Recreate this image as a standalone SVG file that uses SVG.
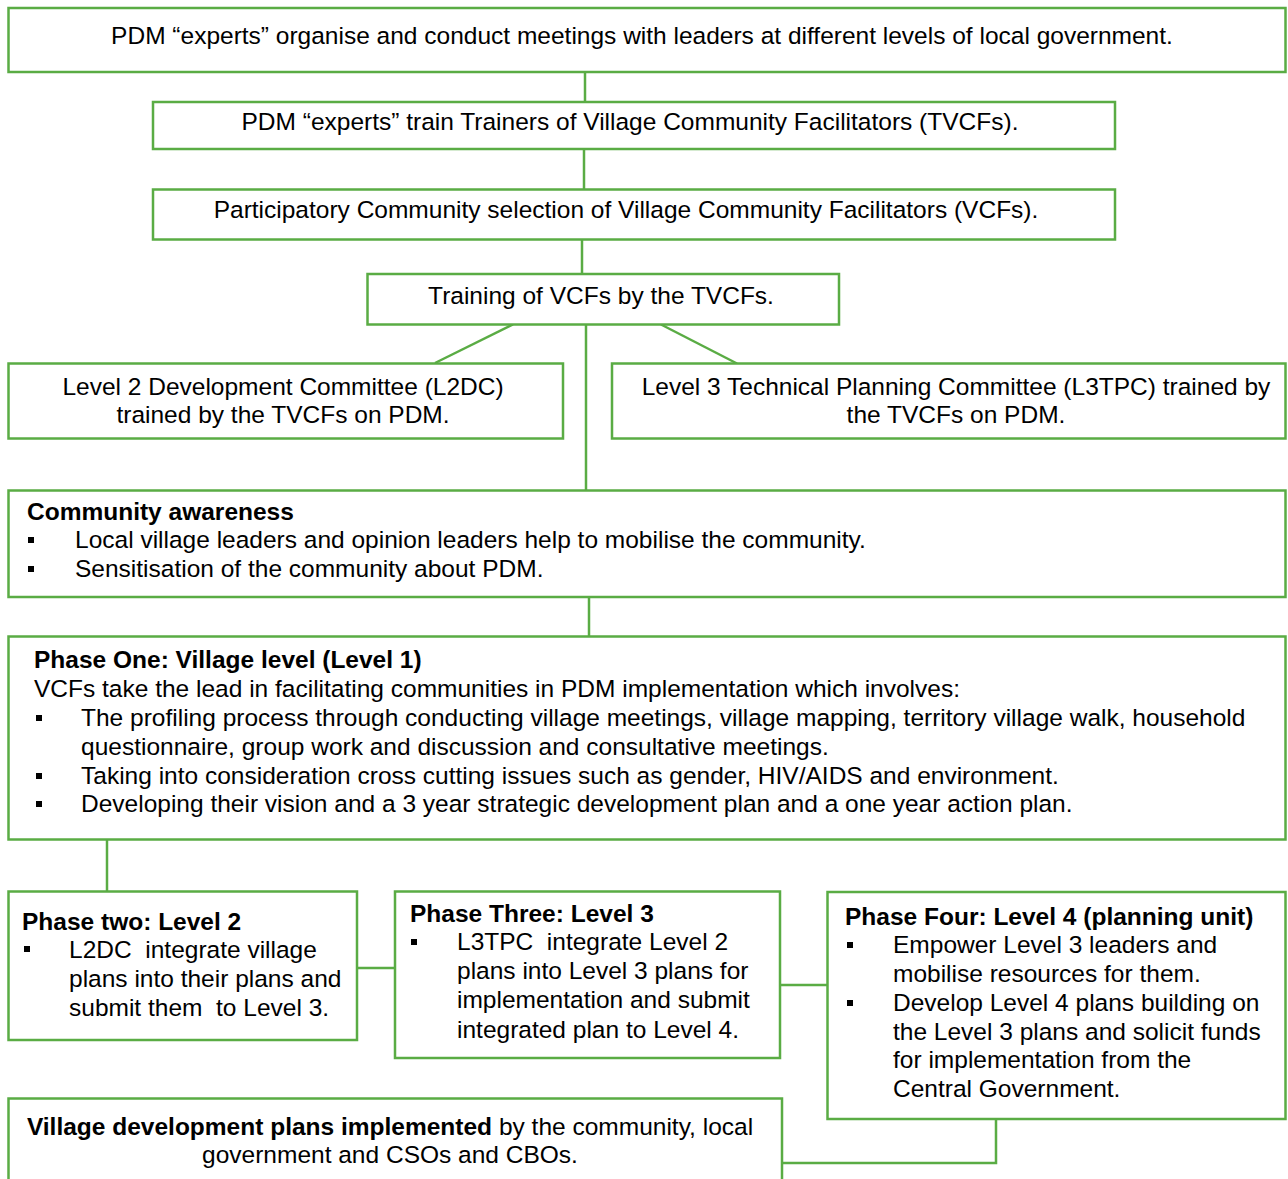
<svg xmlns="http://www.w3.org/2000/svg" width="1288" height="1179" viewBox="0 0 1288 1179">
<style>
.box{fill:#fff;stroke:#5aac44;stroke-width:2.5}
.con{fill:none;stroke:#5aac44;stroke-width:2.5}
text{font-family:"Liberation Sans",Arial,sans-serif;font-size:24.5px;fill:#000;white-space:pre}
.c{text-anchor:middle}
.b{font-weight:bold}
.bl{fill:#000}
</style>
<rect width="1288" height="1179" fill="#fff"/>
<g id="connectors">
<line class="con" x1="585" y1="72" x2="585" y2="102"/>
<line class="con" x1="584" y1="149" x2="584" y2="189.5"/>
<line class="con" x1="582" y1="239.5" x2="582" y2="274"/>
<line class="con" x1="513" y1="324.5" x2="435" y2="363"/>
<line class="con" x1="661" y1="324.5" x2="737" y2="363.5"/>
<line class="con" x1="586" y1="324.5" x2="586" y2="490.5"/>
<line class="con" x1="589" y1="597" x2="589" y2="636.5"/>
<line class="con" x1="107" y1="839.5" x2="107" y2="891.5"/>
<line class="con" x1="357" y1="968" x2="395" y2="968"/>
<line class="con" x1="780" y1="985" x2="827.5" y2="985"/>
<polyline class="con" points="996,1119 996,1163 782,1163"/>
</g>
<g id="n1">
<rect class="box" x="8.5" y="8" width="1277" height="64"/>
<text class="c" x="642" y="44">PDM “experts” organise and conduct meetings with leaders at different levels of local government.</text>
</g>
<g id="n2">
<rect class="box" x="153" y="102" width="962" height="47"/>
<text class="c" x="630" y="130">PDM “experts” train Trainers of Village Community Facilitators (TVCFs).</text>
</g>
<g id="n3">
<rect class="box" x="153" y="189.5" width="962" height="50"/>
<text class="c" x="626" y="218">Participatory Community selection of Village Community Facilitators (VCFs).</text>
</g>
<g id="n4">
<rect class="box" x="367.5" y="274" width="471.5" height="50.5"/>
<text class="c" x="601" y="304">Training of VCFs by the TVCFs.</text>
</g>
<g id="n5">
<rect class="box" x="8.5" y="363.5" width="554.5" height="75"/>
<text class="c" x="283" y="395">Level 2 Development Committee (L2DC)</text>
<text class="c" x="283" y="423">trained by the TVCFs on PDM.</text>
</g>
<g id="n6">
<rect class="box" x="612" y="363.5" width="673.5" height="75"/>
<text class="c" x="956" y="395">Level 3 Technical Planning Committee (L3TPC) trained by</text>
<text class="c" x="956" y="423">the TVCFs on PDM.</text>
</g>
<g id="n7">
<rect class="box" x="8.5" y="490.5" width="1277" height="106.5"/>
<text class="b" x="27" y="520">Community awareness</text>
<rect class="bl" x="28" y="537" width="6" height="6"/>
<text x="75" y="548">Local village leaders and opinion leaders help to mobilise the community.</text>
<rect class="bl" x="28" y="566" width="6" height="6"/>
<text x="75" y="577">Sensitisation of the community about PDM.</text>
</g>
<g id="n8">
<rect class="box" x="8.5" y="636.5" width="1277" height="203"/>
<text class="b" x="34" y="668">Phase One: Village level (Level 1)</text>
<text x="34" y="697">VCFs take the lead in facilitating communities in PDM implementation which involves:</text>
<rect class="bl" x="36" y="715" width="6" height="6"/>
<text x="81" y="726">The profiling process through conducting village meetings, village mapping, territory village walk, household</text>
<text x="81" y="755">questionnaire, group work and discussion and consultative meetings.</text>
<rect class="bl" x="36" y="773" width="6" height="6"/>
<text x="81" y="784">Taking into consideration cross cutting issues such as gender, HIV/AIDS and environment.</text>
<rect class="bl" x="36" y="801" width="6" height="6"/>
<text x="81" y="812">Developing their vision and a 3 year strategic development plan and a one year action plan.</text>
</g>
<g id="n9">
<rect class="box" x="8.5" y="891.5" width="348.5" height="148.5"/>
<text class="b" x="22" y="930">Phase two: Level 2</text>
<rect class="bl" x="24" y="946" width="6" height="6"/>
<text x="69" y="958">L2DC  integrate village</text>
<text x="69" y="987">plans into their plans and</text>
<text x="69" y="1016">submit them  to Level 3.</text>
</g>
<g id="n10">
<rect class="box" x="395" y="891.5" width="385" height="166.5"/>
<text class="b" x="410" y="922">Phase Three: Level 3</text>
<rect class="bl" x="411" y="939" width="6" height="6"/>
<text x="457" y="950">L3TPC  integrate Level 2</text>
<text x="457" y="979">plans into Level 3 plans for</text>
<text x="457" y="1008">implementation and submit</text>
<text x="457" y="1038">integrated plan to Level 4.</text>
</g>
<g id="n11">
<rect class="box" x="827.5" y="892" width="458" height="227"/>
<text class="b" x="845" y="925">Phase Four: Level 4 (planning unit)</text>
<rect class="bl" x="847" y="942" width="6" height="6"/>
<text x="893" y="953">Empower Level 3 leaders and</text>
<text x="893" y="982">mobilise resources for them.</text>
<rect class="bl" x="847" y="1000" width="6" height="6"/>
<text x="893" y="1011">Develop Level 4 plans building on</text>
<text x="893" y="1040">the Level 3 plans and solicit funds</text>
<text x="893" y="1068">for implementation from the</text>
<text x="893" y="1097">Central Government.</text>
</g>
<g id="n12">
<rect class="box" x="8.5" y="1098.5" width="773.5" height="100"/>
<text class="c" x="390" y="1135"><tspan class="b">Village development plans implemented</tspan> by the community, local</text>
<text class="c" x="390" y="1163">government and CSOs and CBOs.</text>
</g>
</svg>
